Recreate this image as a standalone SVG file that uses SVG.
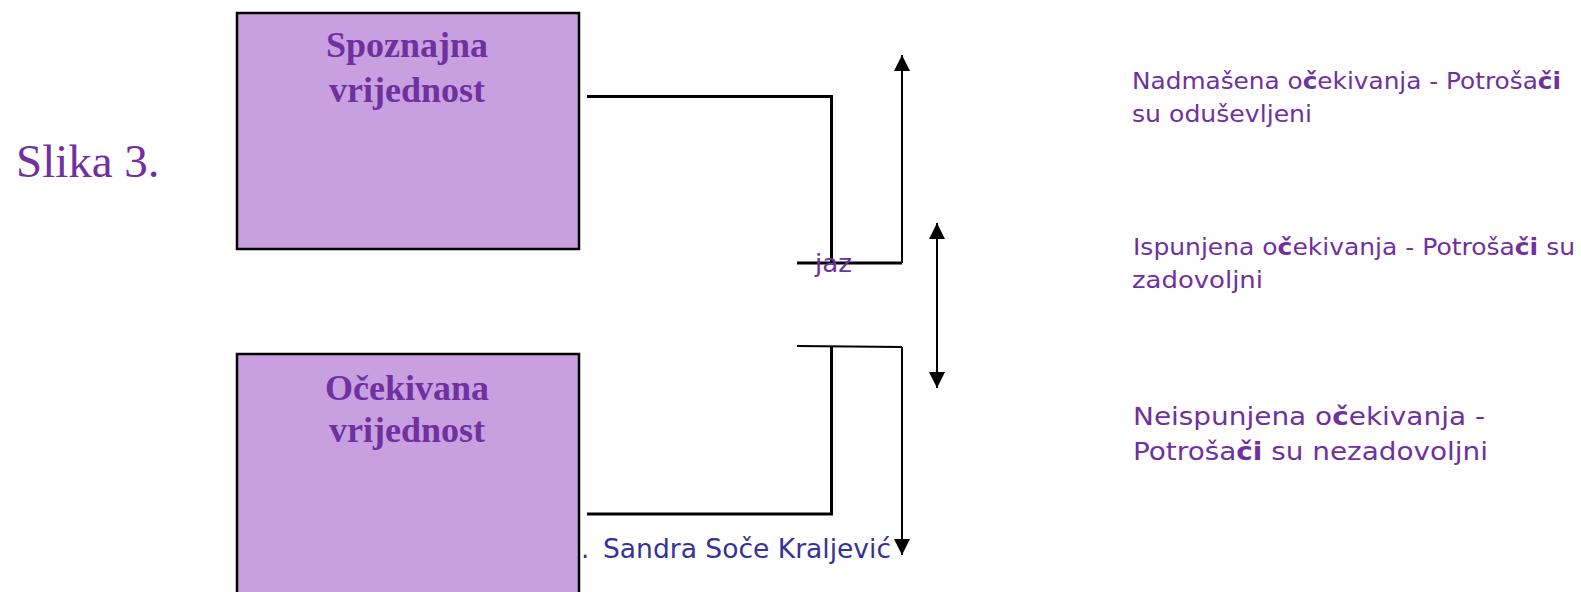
<svg xmlns="http://www.w3.org/2000/svg" width="1581" height="592" viewBox="0 0 1581 592">
<style>
.box{fill:#C8A0E0;stroke:#000;stroke-width:2.5}
.title{font-family:"Liberation Serif",serif;font-weight:bold;font-size:36px;fill:#7030A0;text-anchor:middle}
.lbl{font-family:"DejaVu Sans","Liberation Sans",sans-serif;font-size:23px;fill:#7030A0}
.lbl2{font-family:"DejaVu Sans","Liberation Sans",sans-serif;font-size:24px;fill:#7030A0}
.thick{stroke:#000;stroke-width:3;fill:none}
.thin{stroke:#000;stroke-width:2;fill:none}
.b{font-weight:bold}
</style>
<defs>
<marker id="ah2" viewBox="0 0 10 10" refX="10" refY="5" markerWidth="16" markerHeight="17" markerUnits="userSpaceOnUse" orient="auto-start-reverse">
<path d="M0,0 L10,5 L0,10 Z" fill="#000"/>
</marker>
</defs>
<text x="16" y="177" font-family="Liberation Serif,serif" font-size="47" fill="#7030A0">Slika 3.</text>
<text x="581" y="558" font-family="DejaVu Sans,sans-serif" font-size="26" fill="#333399">.  <tspan x="603" textLength="288" lengthAdjust="spacingAndGlyphs">Sandra Soče Kraljević</tspan></text>
<g id="spoznajna">
<rect class="box" x="237" y="13" width="342" height="236"/>
<text class="title" x="407" y="57">Spoznajna</text>
<text class="title" x="407" y="102">vrijednost</text>
</g>
<g id="ocekivana">
<rect class="box" x="237" y="354" width="342" height="250"/>
<text class="title" x="407" y="400">Očekivana</text>
<text class="title" x="407" y="442">vrijednost</text>
</g>
<g id="connectors">
<polyline class="thick" points="587,96.5 831.5,96.5 831.5,263"/>
<polyline class="thick" points="797,263 902,263"/>
<line class="thin" x1="902" y1="263" x2="902" y2="55" marker-end="url(#ah2)"/>
<line class="thin" x1="937" y1="223" x2="937" y2="388" marker-start="url(#ah2)" marker-end="url(#ah2)"/>
<polyline class="thin" points="797,346 902,347"/>
<polyline class="thick" points="587,514 831.5,514 831.5,347"/>
<line class="thin" x1="902" y1="347" x2="902" y2="555" marker-end="url(#ah2)"/>
</g>
<text x="815" y="272" font-family="DejaVu Sans,sans-serif" font-size="24" fill="#7030A0" textLength="37" lengthAdjust="spacingAndGlyphs">jaz</text>
<g id="labels">
<text class="lbl" x="1132" y="89" textLength="429" lengthAdjust="spacingAndGlyphs">Nadmašena o<tspan class="b">č</tspan>ekivanja - Potroša<tspan class="b">či</tspan></text>
<text class="lbl" x="1132" y="122" textLength="180" lengthAdjust="spacingAndGlyphs">su oduševljeni</text>
<text class="lbl" x="1133" y="255" textLength="442" lengthAdjust="spacingAndGlyphs">Ispunjena o<tspan class="b">č</tspan>ekivanja - Potroša<tspan class="b">či</tspan> su</text>
<text class="lbl" x="1132" y="288" textLength="131" lengthAdjust="spacingAndGlyphs">zadovoljni</text>
<text class="lbl2" x="1133" y="425" textLength="352" lengthAdjust="spacingAndGlyphs">Neispunjena o<tspan class="b">č</tspan>ekivanja -</text>
<text class="lbl2" x="1133" y="460" textLength="355" lengthAdjust="spacingAndGlyphs">Potroša<tspan class="b">či</tspan> su nezadovoljni</text>
</g>
</svg>
